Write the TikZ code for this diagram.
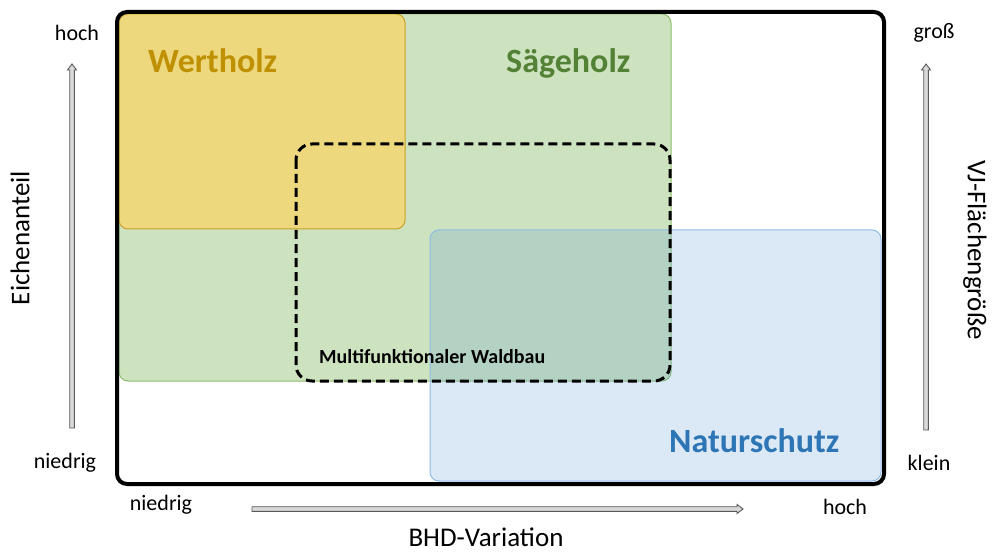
\documentclass[tikz,border=0pt]{standalone}
\usepackage{fontspec}
\setmainfont{Carlito}
\usetikzlibrary{arrows.meta}
\definecolor{wfill}{HTML}{EDD87E}
\definecolor{wdraw}{HTML}{C9A227}
\definecolor{wtext}{HTML}{BF9000}
\definecolor{sgreen}{HTML}{70AD47}
\definecolor{stext}{HTML}{538135}
\definecolor{nblue}{HTML}{5B9BD5}
\definecolor{ndraw}{HTML}{8FBCE6}
\definecolor{ntext}{HTML}{2E75B6}
\begin{document}
\begin{tikzpicture}[x=1pt,y=-1pt,
  area/.style={rounded corners=9pt, line width=1pt},
  title/.style={font=\fontsize{34}{40}\selectfont\bfseries, anchor=base west, inner sep=0pt},
  axlabel/.style={font=\fontsize{22}{26}\selectfont, inner sep=0pt},
  axtitle/.style={font=\fontsize{27}{32}\selectfont, inner sep=0pt},
  hollow/.style={draw=black!65, fill=black!15, line width=0.9pt, line join=miter}]
\useasboundingbox (0,0) rectangle (992,553);
% areas
\draw[area, fill=sgreen, fill opacity=0.35, draw=sgreen!80] (119,14) rectangle (671,381);
\draw[area, fill=wfill, draw=wdraw] (119,14) rectangle (405,229);
\draw[area, fill=nblue, fill opacity=0.22, draw=ndraw] (430,230) rectangle (881,481);
% dashed box
\draw[line width=3pt, dash pattern=on 9pt off 5pt, rounded corners=16pt] (296,144) rectangle (670,381);
% frame
\draw[line width=4pt, rounded corners=10pt] (117,12) rectangle (884,484);
% titles
\node[title, text=wtext] (wert) at (148,73) {Wertholz};
\node[title, text=stext] (saege) at (506,73) {Sägeholz};
\node[title, text=ntext] (natur) at (669,452) {Naturschutz};
\node[font=\fontsize{20}{24}\selectfont\bfseries, anchor=base west, inner sep=0pt] (multi) at (319,363) {Multifunktionaler Waldbau};
% axis labels
\node[axlabel] (lhoch) at (77,33) {hoch};
\node[axlabel] (lnied) at (65,463) {niedrig};
\node[axlabel] (rgross) at (934,33) {groß};
\node[axlabel] (rklein) at (929,463) {klein};
\node[axlabel] (bnied) at (161,505) {niedrig};
\node[axlabel] (bhoch) at (845,507) {hoch};
\node[axtitle] (bhd) at (486,537) {BHD-Variation};
\node[axtitle, rotate=90] (eiche) at (20,238) {Eichenanteil};
\node[axtitle, rotate=-90] (vj) at (975,250) {VJ-Flächengröße};
% arrows (hollow block arrows)
\coordinate (la0) at (72,428); \coordinate (la1) at (72,64);
\coordinate (ra0) at (926,430); \coordinate (ra1) at (926,64);
\coordinate (ba0) at (252,509); \coordinate (ba1) at (743,509);
\draw[hollow] ([xshift=-2.3pt]la0) -- ([xshift=-2.3pt,yshift=-6pt]la1) -- ([xshift=-4.5pt,yshift=-6pt]la1) -- (la1)
  -- ([xshift=4.5pt,yshift=-6pt]la1) -- ([xshift=2.3pt,yshift=-6pt]la1) -- ([xshift=2.3pt]la0) -- cycle;
\draw[hollow] ([xshift=-2.3pt]ra0) -- ([xshift=-2.3pt,yshift=-6pt]ra1) -- ([xshift=-4.5pt,yshift=-6pt]ra1) -- (ra1)
  -- ([xshift=4.5pt,yshift=-6pt]ra1) -- ([xshift=2.3pt,yshift=-6pt]ra1) -- ([xshift=2.3pt]ra0) -- cycle;
\draw[hollow] ([yshift=2.3pt]ba0) -- ([xshift=-6pt,yshift=2.3pt]ba1) -- ([xshift=-6pt,yshift=4.5pt]ba1) -- (ba1)
  -- ([xshift=-6pt,yshift=-4.5pt]ba1) -- ([xshift=-6pt,yshift=-2.3pt]ba1) -- ([yshift=-2.3pt]ba0) -- cycle;
\end{tikzpicture}
\end{document}
